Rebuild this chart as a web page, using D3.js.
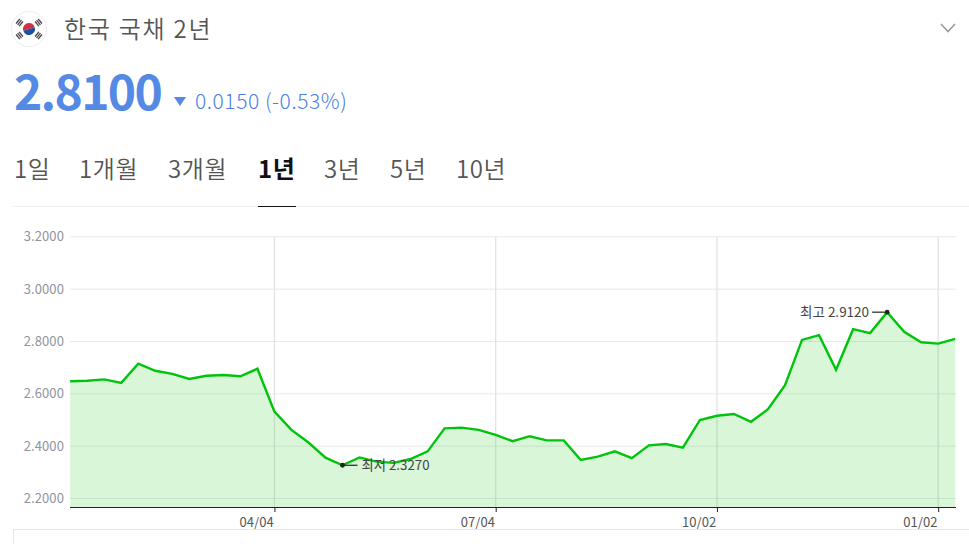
<!DOCTYPE html>
<html><head><meta charset="utf-8">
<script src="https://cdn.jsdelivr.net/npm/d3@7"></script>
<style>html,body{margin:0;padding:0;background:#fff;overflow:hidden}svg{display:block}
text{font-family:"Noto Sans CJK KR","Noto Sans",sans-serif}</style></head><body>
<svg id="c" width="969" height="544"></svg>
<script>
const titleText="한국 국채 2년";
const priceText="2.8100";
const changeText="0.0150 (-0.53%)";
const tabLabels=["1일","1개월","3개월","1년","3년","5년","10년"];
const activeTab="1년";
const tabLeft=[14,79,168,258,324,390,456];
const dates=["01/10","01/17","01/24","01/31","02/07","02/14","02/21","02/28","03/07","03/14","03/21","03/28","04/04","04/11","04/18","04/25","05/02","05/09","05/16","05/23","05/30","06/06","06/13","06/20","06/27","07/04","07/11","07/18","07/25","08/01","08/08","08/15","08/22","08/29","09/05","09/12","09/19","09/26","10/02","10/10","10/17","10/24","10/31","11/07","11/14","11/21","11/28","12/05","12/12","12/19","12/26","01/02","01/09"];
const yields=[2.648,2.650,2.655,2.642,2.715,2.688,2.676,2.657,2.669,2.672,2.667,2.696,2.532,2.462,2.414,2.356,2.327,2.357,2.341,2.336,2.351,2.380,2.468,2.471,2.462,2.443,2.419,2.438,2.422,2.422,2.347,2.360,2.380,2.354,2.403,2.408,2.394,2.500,2.516,2.523,2.493,2.541,2.633,2.806,2.824,2.692,2.847,2.832,2.912,2.837,2.797,2.792,2.810];
const yTicks=[2.2,2.4,2.6,2.8,3.0,3.2];
const xTicks=["04/04","07/04","10/02","01/02"];
const lowLabel="최저 2.3270", highLabel="최고 2.9120";

const svg=d3.select("#c");
const x=d3.scalePoint().domain(dates).range([70.2,955.2]);
const y=d3.scaleLinear().domain([2.2,3.2]).range([498.5,236.8]);
const yBase=507;

// header
const flag=svg.append("g").attr("transform","translate(29,29)");
flag.append("circle").attr("r",17.5).attr("fill","#fff").attr("stroke","#ececec");
flag.append("path").attr("d",d3.arc()({innerRadius:0,outerRadius:6,startAngle:-Math.PI*0.6,endAngle:Math.PI*0.4})).attr("fill","#d1303f");
flag.append("path").attr("d",d3.arc()({innerRadius:0,outerRadius:6,startAngle:Math.PI*0.4,endAngle:Math.PI*1.4})).attr("fill","#1f4f9e");
[[-9.5,-6.5,-50],[9.5,-6.5,50],[-9.5,6.5,50],[9.5,6.5,-50]].forEach(d=>{
  const g=flag.append("g").attr("transform",`translate(${d[0]},${d[1]}) rotate(${d[2]})`);
  [-2,0,2].forEach(o=>g.append("rect").attr("x",-3).attr("y",o-0.65).attr("width",6).attr("height",1.3).attr("fill","#444"));
});
svg.append("text").attr("x",64).attr("y",38).attr("font-size",24).attr("letter-spacing",1.75).attr("font-weight",350).attr("fill","#555").text(titleText);
svg.append("path").attr("d","M941,24L948,31.5L955,24").attr("fill","none").attr("stroke","#9a9a9a").attr("stroke-width",1.6);
svg.append("text").attr("x",14).attr("y",110).attr("font-size",48).attr("letter-spacing",-1.7).attr("font-weight",700).attr("fill","#5589e6").text(priceText);
svg.append("path").attr("d","M174,97L186,97L180,106Z").attr("fill","#5589e6");
svg.append("text").attr("x",195).attr("y",109).attr("font-size",21).attr("letter-spacing",0.55).attr("font-weight",300).attr("fill","#4a80e6").text(changeText);

// tabs
svg.selectAll("text.tab").data(tabLabels).join("text").attr("class","tab")
 .attr("x",(d,i)=>tabLeft[i]).attr("y",178).attr("font-size",24).attr("letter-spacing",0.6)
 .attr("font-weight",d=>d===activeTab?700:350)
 .attr("fill",d=>d===activeTab?"#111":"#555").text(d=>d);
svg.append("line").attr("x1",13).attr("x2",969).attr("y1",206.5).attr("y2",206.5).attr("stroke","#f0f0f0");
svg.append("line").attr("x1",258).attr("x2",296).attr("y1",206.5).attr("y2",206.5).attr("stroke","#111");

// grid
svg.selectAll("line.hg").data(yTicks).join("line").attr("class","hg")
 .attr("x1",70).attr("x2",956).attr("y1",d=>y(d)).attr("y2",d=>y(d)).attr("stroke","#e8e9ec");
svg.selectAll("line.vg").data(xTicks).join("line").attr("class","vg")
 .attr("x1",d=>x(d)).attr("x2",d=>x(d)).attr("y1",y(3.2)).attr("y2",yBase).attr("stroke","#e2e4e9").attr("stroke-width",1.4);

// series
const idx=d3.range(dates.length);
svg.append("path").datum(idx).attr("fill","#00c000").attr("fill-opacity",0.15)
 .attr("d",d3.area().x(i=>x(dates[i])).y0(yBase).y1(i=>y(yields[i])));
svg.append("path").datum(idx).attr("fill","none").attr("stroke","#00c40c").attr("stroke-width",2.4)
 .attr("d",d3.line().x(i=>x(dates[i])).y(i=>y(yields[i])));

// y axis labels
svg.selectAll("text.yl").data(yTicks).join("text").attr("class","yl")
 .attr("x",64).attr("y",d=>y(d)+4.5).attr("text-anchor","end").attr("font-size",13).attr("letter-spacing",0.1).attr("fill","#8f949c")
 .text(d=>d3.format(".4f")(d));

// x axis
const axis=d3.axisBottom(x).tickValues(xTicks).tickSize(5).tickFormat("");
const ax=svg.append("g").attr("transform",`translate(0,${yBase})`).call(axis);
ax.select(".domain").attr("d","M70,0.5H956").attr("stroke","#222");
ax.selectAll(".tick line").attr("stroke","#222");
svg.selectAll("text.xl").data(xTicks).join("text").attr("class","xl")
 .attr("x",d=>x(d)-0.5).attr("y",527).attr("text-anchor","end").attr("font-size",13).attr("letter-spacing",0.1).attr("fill","#555").text(d=>d);
svg.append("path").attr("d","M13.5,544V529.5H969").attr("fill","none").attr("stroke","#e8e8e8");

// markers
const iLow=yields.indexOf(d3.min(yields)), iHigh=yields.indexOf(d3.max(yields));
const lx=x(dates[iLow]), ly=y(yields[iLow]), hx=x(dates[iHigh]), hy=y(yields[iHigh]);
svg.append("line").attr("x1",lx).attr("x2",lx+15).attr("y1",ly).attr("y2",ly).attr("stroke","#222").attr("stroke-width",1.2);
svg.append("circle").attr("cx",lx).attr("cy",ly).attr("r",2.4).attr("fill","#222");
svg.append("text").attr("x",lx+19).attr("y",ly+5).attr("font-size",13.3).attr("fill","#444").text(lowLabel);
svg.append("line").attr("x1",hx-15).attr("x2",hx).attr("y1",hy).attr("y2",hy).attr("stroke","#222").attr("stroke-width",1.2);
svg.append("circle").attr("cx",hx).attr("cy",hy).attr("r",2.4).attr("fill","#222");
svg.append("text").attr("x",hx-18).attr("y",hy+4.5).attr("text-anchor","end").attr("font-size",13.5).attr("fill","#444").text(highLabel);
</script></body></html>
